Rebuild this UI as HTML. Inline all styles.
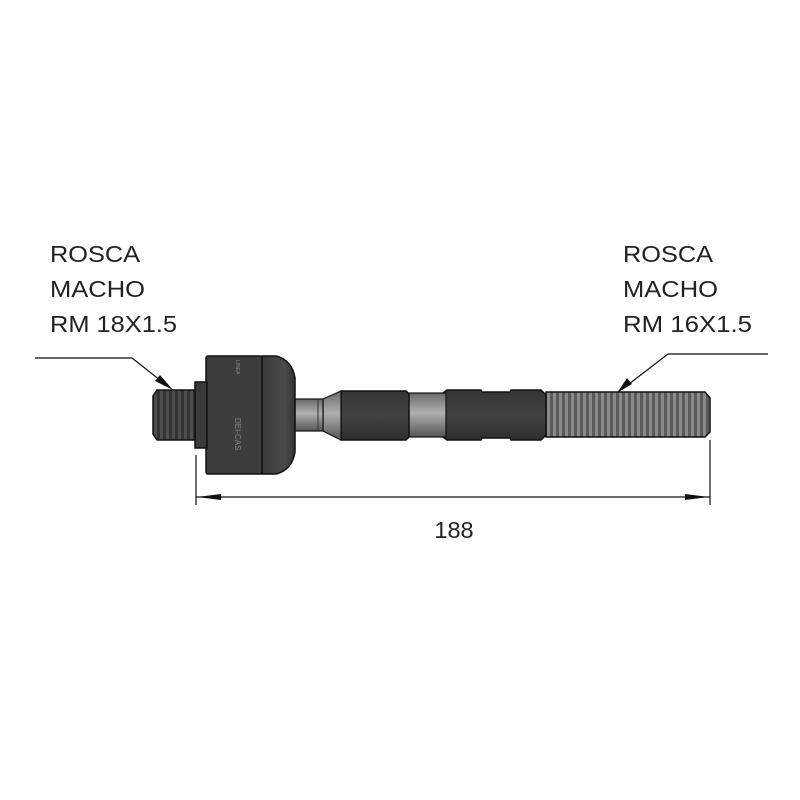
<!DOCTYPE html>
<html><head><style>
body{margin:0;background:#fff;}
svg{display:block}
text{font-family:"Liberation Sans",sans-serif;fill:#222}
</style></head><body>
<svg width="800" height="800" viewBox="0 0 800 800" xmlns="http://www.w3.org/2000/svg">
<defs>
<linearGradient id="dk" x1="0" y1="0" x2="0" y2="1">
<stop offset="0" stop-color="#353535"/><stop offset="0.5" stop-color="#424242"/><stop offset="1" stop-color="#2e2e2e"/></linearGradient>
<linearGradient id="lt" x1="0" y1="0" x2="0" y2="1">
<stop offset="0" stop-color="#6a6a6a"/><stop offset="0.45" stop-color="#b0b0b0"/><stop offset="1" stop-color="#555"/></linearGradient>
<linearGradient id="dome" x1="0" y1="0" x2="1" y2="0">
<stop offset="0" stop-color="#3a3a3a"/><stop offset="0.7" stop-color="#4a4a4a"/><stop offset="1" stop-color="#333"/></linearGradient>
<pattern id="thr" x="546" y="0" width="6" height="10" patternUnits="userSpaceOnUse">
<rect width="6" height="10" fill="#5a5a5a"/><rect x="1" width="3" height="10" fill="#8a8a8a"/></pattern>
<pattern id="thr2" x="153" y="0" width="6" height="10" patternUnits="userSpaceOnUse">
<rect width="6" height="10" fill="#333"/><rect x="1" width="3" height="10" fill="#4e4e4e"/></pattern>
</defs>
<g fill="#222">
<text x="50" y="262" font-size="23.5" textLength="90" lengthAdjust="spacingAndGlyphs">ROSCA</text>
<text x="50" y="297" font-size="23.5" textLength="95" lengthAdjust="spacingAndGlyphs">MACHO</text>
<text x="50" y="332" font-size="23.5" textLength="127" lengthAdjust="spacingAndGlyphs">RM 18X1.5</text>
<text x="623" y="262" font-size="23.5" textLength="90" lengthAdjust="spacingAndGlyphs">ROSCA</text>
<text x="623" y="297" font-size="23.5" textLength="95" lengthAdjust="spacingAndGlyphs">MACHO</text>
<text x="623" y="332" font-size="23.5" textLength="129" lengthAdjust="spacingAndGlyphs">RM 16X1.5</text>
<text x="454" y="538" font-size="23.5" text-anchor="middle">188</text>
</g>
<polyline points="35,358 132,358 165,384" fill="none" stroke="#111" stroke-width="1.2"/>
<polygon points="173,390 155,381 160,375" fill="#111"/>
<polyline points="768,354 668,354 625,387" fill="none" stroke="#111" stroke-width="1.2"/>
<polygon points="617,393 627,378 632,384" fill="#111"/>
<line x1="196" y1="455" x2="196" y2="505" stroke="#111" stroke-width="1.2"/>
<line x1="710" y1="440" x2="710" y2="505" stroke="#111" stroke-width="1.2"/>
<line x1="196" y1="497" x2="710" y2="497" stroke="#111" stroke-width="1.2"/>
<polygon points="197,497 221,494 221,500" fill="#111"/>
<polygon points="709,497 685,494 685,500" fill="#111"/>
<path d="M546,392 L705,392 L710,398 L710,432 L705,437 L546,437 Z" fill="url(#thr)" stroke="#111" stroke-width="1.5"/>
<path d="M443,393 L447,390 L481,390 L482,392 L510,392 L511,390 L541,390 L546,395 L546,435 L541,440 L511,440 L510,438 L482,438 L481,440 L447,440 L443,437 Z" fill="url(#dk)" stroke="#111" stroke-width="1.5"/>
<rect x="406" y="393" width="40" height="44" fill="url(#lt)" stroke="#111" stroke-width="1.2"/>
<path d="M341,391 L406,391 L409,394 L409,437 L406,440 L341,440 Z" fill="url(#dk)" stroke="#111" stroke-width="1.5"/>
<path d="M323,399 L341,391 L341,440 L323,431 Z" fill="url(#lt)" stroke="#111" stroke-width="1.2"/>
<rect x="295" y="399" width="28" height="32" fill="url(#lt)" stroke="#111" stroke-width="1.2"/>
<line x1="318" y1="399" x2="318" y2="431" stroke="#333"/>
<path d="M262,356 L276,356 Q292,360 295,378 L295,452 Q292,470 276,474 L262,474 Z" fill="url(#dome)" stroke="#111" stroke-width="1.5"/>
<rect x="206" y="356" width="56" height="118" rx="2" fill="#3d3d3d" stroke="#111" stroke-width="1.5"/>
<text x="0" y="0" font-size="8" style="fill:#888" transform="translate(235,418) rotate(90)">DEI-CAS</text>
<text x="0" y="0" font-size="5" style="fill:#888" transform="translate(236,360) rotate(90)">LINEA</text>
<rect x="195" y="382" width="12" height="66" fill="#3a3a3a" stroke="#111" stroke-width="1.5"/>
<path d="M157,390 L195,390 L195,440 L157,440 L153,434 L153,396 Z" fill="url(#thr2)" stroke="#111" stroke-width="1.5"/>
</svg>
</body></html>
